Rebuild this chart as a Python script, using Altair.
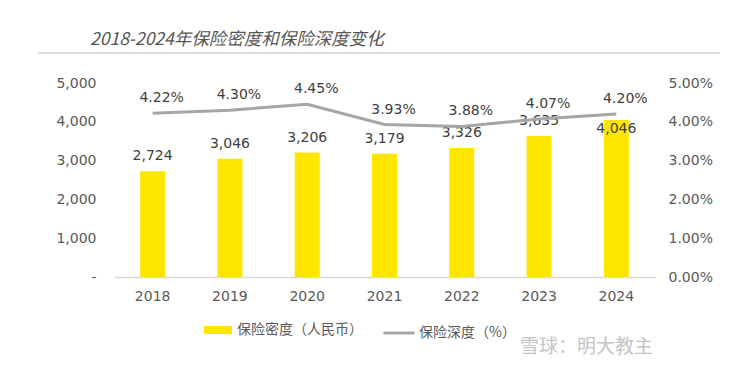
import altair as alt
import pandas as pd

years = ["2018", "2019", "2020", "2021", "2022", "2023", "2024"]
density = [2724, 3046, 3206, 3179, 3326, 3635, 4046]
depth = [4.22, 4.30, 4.45, 3.93, 3.88, 4.07, 4.20]
left_ticks = [0, 1000, 2000, 3000, 4000, 5000]
right_ticks = [0, 1, 2, 3, 4, 5]
title_text = "2018-2024年保险密度和保险深度变化"
legend_bar = "保险密度（人民币）"
legend_line = "保险深度（%）"
watermark = "雪球：明大教主"

df = pd.DataFrame({
    "year": years,
    "density": density,
    "depth": depth,
    "bar_series": legend_bar,
    "line_series": legend_line,
})

NUM_FONT = "DejaVu Sans"
CJK = "Noto Sans CJK SC"
AX_COLOR = "#595959"
LBL_COLOR = "#404040"

x_enc = alt.X(
    "year:N",
    sort=years,
    scale=alt.Scale(paddingInner=0, paddingOuter=0),
    axis=alt.Axis(title=None, labelAngle=0, labelFont=NUM_FONT, labelFontSize=14,
                  labelColor=AX_COLOR, labelPadding=12, ticks=False,
                  domainColor="#d9d9d9", domainWidth=1.5, grid=False),
)

y_left = alt.Y(
    "density:Q",
    scale=alt.Scale(domain=[0, 5000]),
    axis=alt.Axis(title=None, values=left_ticks, grid=False, ticks=False, domain=False,
                  labelFont=NUM_FONT, labelFontSize=14, labelColor=AX_COLOR, labelPadding=18,
                  labelExpr="datum.value == 0 ? '-\u00a0\u00a0\u00a0' : format(datum.value, ',')"),
)

y_right = alt.Y(
    "depth:Q",
    scale=alt.Scale(domain=[0, 5]),
    axis=alt.Axis(title=None, orient="right", values=right_ticks, grid=False, ticks=False,
                  domain=False, labelFont=NUM_FONT, labelFontSize=14, labelColor=AX_COLOR,
                  labelPadding=13, labelExpr="format(datum.value, '.2f') + '%'"),
)

base = alt.Chart(df)

bars = base.mark_bar(size=25).encode(
    x=x_enc,
    y=y_left,
    color=alt.Color(
        "bar_series:N",
        scale=alt.Scale(range=["#FFE600"]),
        legend=alt.Legend(title=None, orient="none", legendX=90, legendY=233,
                          symbolType="M-1,-0.29H1V0.29H-1Z", symbolSize=784,
                          symbolStrokeWidth=0, symbolOpacity=1,
                          labelFont=CJK, labelFontSize=14, labelColor=AX_COLOR,
                          labelOffset=5, padding=0),
    ),
)

bar_labels = base.transform_filter("datum.year != '2024'").mark_text(
    dy=-15, font=NUM_FONT, fontSize=14, color=LBL_COLOR
).encode(x=x_enc, y=y_left, text=alt.Text("density:Q", format=","))

bar_labels_last = base.transform_filter("datum.year == '2024'").mark_text(
    dy=9, font=NUM_FONT, fontSize=14, color=LBL_COLOR
).encode(x=x_enc, y=y_left, text=alt.Text("density:Q", format=","))

left = alt.layer(bars, bar_labels, bar_labels_last)

line = base.mark_line(strokeWidth=3).encode(
    x=x_enc,
    y=y_right,
    stroke=alt.Stroke(
        "line_series:N",
        scale=alt.Scale(range=["#a6a6a6"]),
        legend=alt.Legend(title=None, orient="none", legendX=268, legendY=233,
                          symbolType="stroke", symbolSize=961, symbolStrokeWidth=3,
                          labelFont=CJK, labelFontSize=14, labelColor=AX_COLOR,
                          labelOffset=3, padding=0),
    ),
)

line_labels = base.transform_calculate(
    lbl="format(datum.depth, '.2f') + '%'"
).mark_text(dx=9, dy=-15, font=NUM_FONT, fontSize=14, color=LBL_COLOR).encode(
    x=x_enc, y=y_right, text="lbl:N"
)

right = alt.layer(line, line_labels)

deco = pd.DataFrame({"t": [title_text], "w": [watermark]})
title = alt.Chart(deco).mark_text(
    align="left", baseline="middle", font=CJK, fontSize=17.5, fontStyle="italic",
    color="#555555"
).encode(x=alt.value(-24), y=alt.value(-43), text="t:N")

sep = alt.Chart(deco).mark_rule(color="#dcdcdc", strokeWidth=2).encode(
    x=alt.value(-76), x2=alt.value(606), y=alt.value(-30)
)

wm = alt.Chart(deco).mark_text(
    align="left", baseline="middle", font=CJK, fontSize=19, color="#c4c4c4"
).encode(x=alt.value(406), y=alt.value(264), text="w:N")

chart = alt.layer(left, right, title, sep, wm).resolve_scale(
    y="independent", color="independent", stroke="independent"
).properties(
    width=541,
    height=194,
    autosize=alt.AutoSizeParams(type="none"),
    padding={"left": 106, "top": 75, "right": 70, "bottom": 86},
    background="white",
).configure_view(stroke=None)

chart.save("out.html", embed_options={"renderer": "svg", "actions": False})
